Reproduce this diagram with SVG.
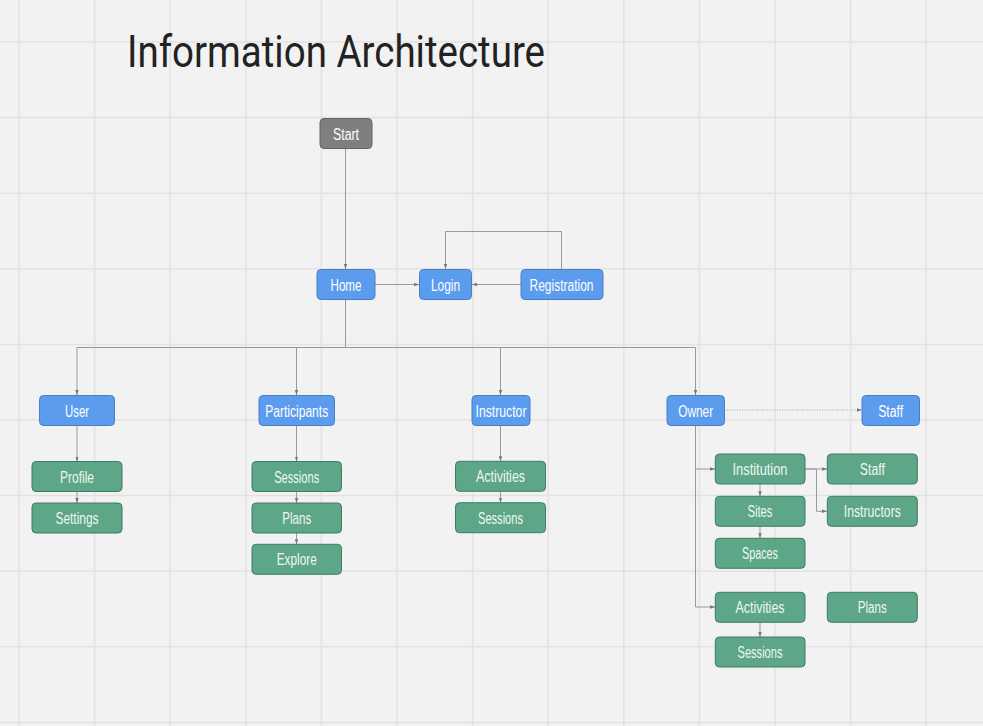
<svg xmlns="http://www.w3.org/2000/svg" width="983" height="726" viewBox="0 0 983 726">
<defs>
<style>
.grid line{stroke:#e2e2e2;stroke-width:1.5}
.n rect{stroke-width:1;rx:4;ry:4}
.blue rect{fill:#5c9cee;stroke:#4a7fc4}
.green rect{fill:#5da688;stroke:#3f7d63}
.gray rect{fill:#7f7f7f;stroke:#626262}
.n text{font-family:"Liberation Sans",Arial,sans-serif;font-size:16px;text-anchor:middle;fill:#ffffff}
.green text{fill:#eef7f2}
.c path{fill:none;stroke:#9a9a9a;stroke-width:1;marker-end:url(#ah)}
.c .dot{stroke-dasharray:1 1.5;stroke:#aaaaaa}
.title{font-family:Roboto,"Liberation Sans",sans-serif;font-size:44px;fill:#222222}
</style>
<marker id="ah" markerUnits="userSpaceOnUse" markerWidth="5" markerHeight="5" viewBox="0 0 5 5" refX="5" refY="2.5" orient="auto">
<path d="M0,0.8 L5,2.5 L0,4.2 z" fill="#777777"/>
</marker>
</defs>
<rect width="983" height="726" fill="#f2f2f2"/>
<g class="grid">
<line x1="19" y1="0" x2="19" y2="726"/>
<line x1="94.6" y1="0" x2="94.6" y2="726"/>
<line x1="170.2" y1="0" x2="170.2" y2="726"/>
<line x1="245.8" y1="0" x2="245.8" y2="726"/>
<line x1="321.4" y1="0" x2="321.4" y2="726"/>
<line x1="397" y1="0" x2="397" y2="726"/>
<line x1="472.6" y1="0" x2="472.6" y2="726"/>
<line x1="548.2" y1="0" x2="548.2" y2="726"/>
<line x1="623.8" y1="0" x2="623.8" y2="726"/>
<line x1="699.4" y1="0" x2="699.4" y2="726"/>
<line x1="775" y1="0" x2="775" y2="726"/>
<line x1="850.6" y1="0" x2="850.6" y2="726"/>
<line x1="926.2" y1="0" x2="926.2" y2="726"/>
<line x1="0" y1="42" x2="983" y2="42"/>
<line x1="0" y1="117.6" x2="983" y2="117.6"/>
<line x1="0" y1="193.2" x2="983" y2="193.2"/>
<line x1="0" y1="268.8" x2="983" y2="268.8"/>
<line x1="0" y1="344.4" x2="983" y2="344.4"/>
<line x1="0" y1="420" x2="983" y2="420"/>
<line x1="0" y1="495.6" x2="983" y2="495.6"/>
<line x1="0" y1="571.2" x2="983" y2="571.2"/>
<line x1="0" y1="646.8" x2="983" y2="646.8"/>
<line x1="0" y1="722.4" x2="983" y2="722.4"/>
</g>
<text class="title" x="127" y="67" textLength="418" lengthAdjust="spacingAndGlyphs">Information Architecture</text>
<g class="c">
<path d="M345.5 148.5 V269"/>
<path d="M375 284.5 H419"/>
<path d="M521 284.5 H472"/>
<path d="M561.5 269 V231.5 H445.5 V269"/>
<path d="M345.5 299.5 V347.5 H77 V395"/>
<path d="M345.5 299.5 V347.5 H296.5 V395"/>
<path d="M345.5 299.5 V347.5 H500.5 V395"/>
<path d="M345.5 299.5 V347.5 H695.5 V395"/>
<path d="M77 425.5 V461.5"/>
<path d="M77 491.5 V503"/>
<path d="M296.5 425.5 V461.5"/>
<path d="M296.5 491.5 V503"/>
<path d="M296.5 533 V544.3"/>
<path d="M500.5 425.5 V461.3"/>
<path d="M500.5 491.3 V502.7"/>
<path class="dot" d="M724.5 410 H862"/>
<path d="M695.5 425.5 V469 H715"/>
<path d="M695.5 425.5 V607 H715"/>
<path d="M805 469 H827"/>
<path d="M805 469 H816.5 V511.3 H827"/>
<path d="M760 484 V496.3"/>
<path d="M760 526.3 V538.3"/>
<path d="M760 622.3 V637"/>
</g>
<g id="start" class="n gray"><rect x="320" y="118.5" width="52" height="30"/><text x="346" y="139.5" textLength="26" lengthAdjust="spacingAndGlyphs">Start</text></g>
<g id="home" class="n blue"><rect x="317" y="269.5" width="58" height="30"/><text x="346" y="290.5" textLength="31" lengthAdjust="spacingAndGlyphs">Home</text></g>
<g id="login" class="n blue"><rect x="419.5" y="269.5" width="52" height="30"/><text x="445.5" y="290.5" textLength="29" lengthAdjust="spacingAndGlyphs">Login</text></g>
<g id="registration" class="n blue"><rect x="521" y="269.5" width="82" height="30"/><text x="561.5" y="290.5" textLength="64" lengthAdjust="spacingAndGlyphs">Registration</text></g>
<g id="user" class="n blue"><rect x="39.5" y="395.5" width="75" height="30"/><text x="77" y="416.5" textLength="24" lengthAdjust="spacingAndGlyphs">User</text></g>
<g id="participants" class="n blue"><rect x="259" y="395.5" width="75.5" height="30"/><text x="296.7" y="416.5" textLength="63" lengthAdjust="spacingAndGlyphs">Participants</text></g>
<g id="instructor" class="n blue"><rect x="472" y="395.5" width="58" height="30"/><text x="501" y="416.5" textLength="51" lengthAdjust="spacingAndGlyphs">Instructor</text></g>
<g id="owner" class="n blue"><rect x="667" y="395.5" width="57.5" height="30"/><text x="695.7" y="416.5" textLength="35" lengthAdjust="spacingAndGlyphs">Owner</text></g>
<g id="staff-owner" class="n blue"><rect x="862" y="395.5" width="57.5" height="30"/><text x="890.7" y="416.5" textLength="25" lengthAdjust="spacingAndGlyphs">Staff</text></g>
<g id="profile" class="n green"><rect x="32" y="461.5" width="90" height="30"/><text x="77" y="482.5" textLength="34" lengthAdjust="spacingAndGlyphs">Profile</text></g>
<g id="settings" class="n green"><rect x="32" y="503" width="90" height="30"/><text x="77" y="524" textLength="43" lengthAdjust="spacingAndGlyphs">Settings</text></g>
<g id="p-sessions" class="n green"><rect x="252" y="461.5" width="89.5" height="30"/><text x="296.7" y="482.5" textLength="45" lengthAdjust="spacingAndGlyphs">Sessions</text></g>
<g id="p-plans" class="n green"><rect x="252" y="503" width="89.5" height="30"/><text x="296.7" y="524" textLength="29" lengthAdjust="spacingAndGlyphs">Plans</text></g>
<g id="p-explore" class="n green"><rect x="252" y="544.3" width="89.5" height="30"/><text x="296.7" y="565.3" textLength="40" lengthAdjust="spacingAndGlyphs">Explore</text></g>
<g id="i-activities" class="n green"><rect x="455.5" y="461.3" width="90" height="30"/><text x="500.5" y="482.3" textLength="49" lengthAdjust="spacingAndGlyphs">Activities</text></g>
<g id="i-sessions" class="n green"><rect x="455.5" y="502.7" width="90" height="30"/><text x="500.5" y="523.7" textLength="45" lengthAdjust="spacingAndGlyphs">Sessions</text></g>
<g id="institution" class="n green"><rect x="715.3" y="454" width="89.7" height="30"/><text x="760" y="475" textLength="55" lengthAdjust="spacingAndGlyphs">Institution</text></g>
<g id="o-staff" class="n green"><rect x="827.3" y="454" width="90" height="30"/><text x="872.3" y="475" textLength="25" lengthAdjust="spacingAndGlyphs">Staff</text></g>
<g id="sites" class="n green"><rect x="715.3" y="496.3" width="89.7" height="30"/><text x="760" y="517.3" textLength="25" lengthAdjust="spacingAndGlyphs">Sites</text></g>
<g id="instructors" class="n green"><rect x="827.3" y="496.3" width="90" height="30"/><text x="872.3" y="517.3" textLength="57" lengthAdjust="spacingAndGlyphs">Instructors</text></g>
<g id="spaces" class="n green"><rect x="715.3" y="538.3" width="89.7" height="30"/><text x="760" y="559.3" textLength="36" lengthAdjust="spacingAndGlyphs">Spaces</text></g>
<g id="o-activities" class="n green"><rect x="715.3" y="592.3" width="89.7" height="30"/><text x="760" y="613.3" textLength="49" lengthAdjust="spacingAndGlyphs">Activities</text></g>
<g id="o-plans" class="n green"><rect x="827.3" y="592.3" width="90" height="30"/><text x="872.3" y="613.3" textLength="29" lengthAdjust="spacingAndGlyphs">Plans</text></g>
<g id="o-sessions" class="n green"><rect x="715.3" y="637" width="89.7" height="30"/><text x="760" y="658" textLength="45" lengthAdjust="spacingAndGlyphs">Sessions</text></g>
</svg>
